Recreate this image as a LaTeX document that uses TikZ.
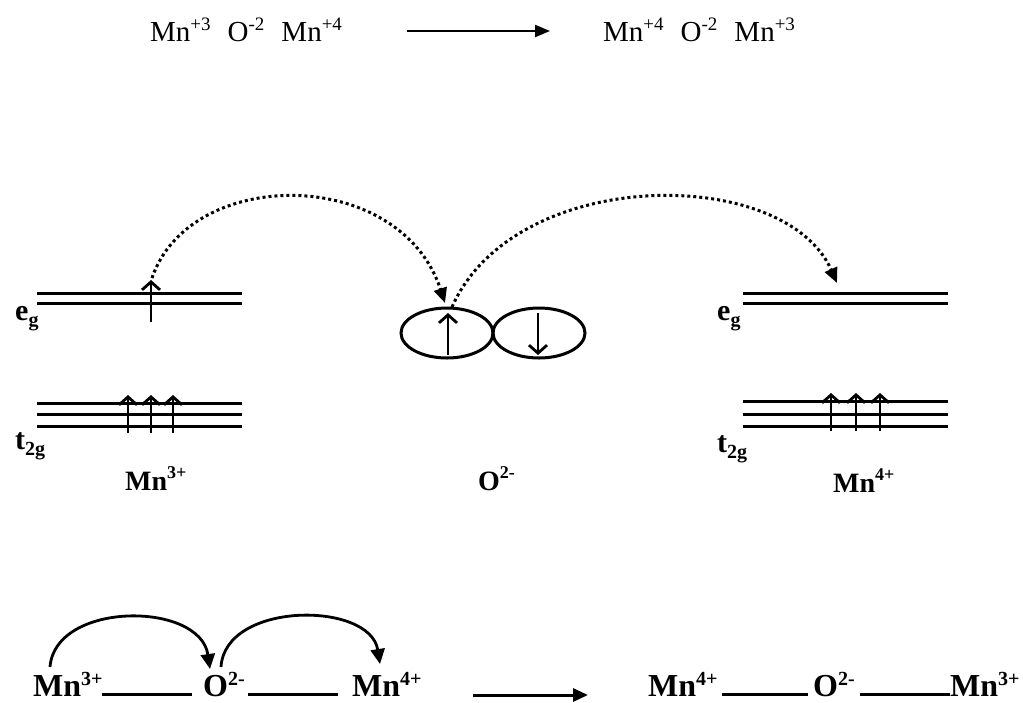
\documentclass[tikz,border=0pt]{standalone}
\usepackage{fontspec}
\setmainfont{Liberation Serif}
\usetikzlibrary{arrows.meta,shapes.geometric}
\newcommand{\mysup}[3]{\raisebox{#2pt}{\fontsize{#1pt}{#1pt}\selectfont #3}}
\newcommand{\mysub}[3]{\raisebox{-#2pt}{\fontsize{#1pt}{#1pt}\selectfont #3}}
\begin{document}
\begin{tikzpicture}[x=1pt,y=-1pt,
  toptext/.style={anchor=base west, inner sep=0pt, font=\fontsize{29}{29}\selectfont},
  lbl/.style={anchor=base west, inner sep=0pt, font=\fontsize{28}{28}\selectfont\bfseries},
  orb/.style={anchor=base west, inner sep=0pt, font=\fontsize{30}{30}\selectfont\bfseries},
  botlbl/.style={anchor=base west, inner sep=0pt, font=\fontsize{32}{32}\selectfont\bfseries},
  level/.style={line width=3pt},
  spin/.style={line width=2.8pt, -{Straight Barb[length=8pt,width=18pt,line width=2.8pt]}},
  hop/.style={line width=3pt, dash pattern=on 3pt off 3pt, -{Triangle[length=15pt,width=13pt]}},
  bond/.style={line width=3pt},
  reac/.style={line width=2.2pt, -{Triangle[length=15pt,width=12pt]}},
  bigreac/.style={line width=3pt, -{Triangle[length=15pt,width=13pt]}},
  curv/.style={line width=2.8pt, -{Triangle[length=15pt,width=14pt]}},
  lobe/.style={ellipse, draw, line width=3pt, minimum width=92pt, minimum height=50pt, inner sep=0pt}
]
\useasboundingbox (0,0) rectangle (1023,702);

% ---------- top reaction ----------
\node[toptext] (tl) at (150,41) {Mn\mysup{19}{11}{+3}\hspace{17pt}O\mysup{19}{11}{-2}\hspace{17pt}Mn\mysup{19}{11}{+4}};
\node[toptext] (tr) at (603,41) {Mn\mysup{19}{11}{+4}\hspace{17pt}O\mysup{19}{11}{-2}\hspace{17pt}Mn\mysup{19}{11}{+3}};
\coordinate (ta) at (407,31);
\coordinate (tb) at (550,31);
\draw[reac] (ta) -- (tb);

% ---------- Mn3+ levels ----------
\foreach \y in {293,303} \draw[level] (37,\y) -- (242,\y);
\foreach \y in {403,414,426} \draw[level] (37,\y) -- (242,\y);
\coordinate (e1b) at (151,322);
\coordinate (e1t) at (151,280);
\draw[spin] (e1b) -- (e1t);
\foreach \x in {128,151,173} \draw[spin] (\x,433) -- (\x,395);
\node[orb] (eg1) at (15,320) {e\mysub{20}{6}{g}};
\node[orb] (tg1) at (15,449) {t\mysub{20}{6}{2g}};
\node[lbl] (mn3) at (125,490) {Mn\mysup{18}{12}{3+}};

% ---------- O2- lobes ----------
\node[lobe] (oL) at (447,333) {};
\node[lobe] (oR) at (539,333) {};
\coordinate (ou1) at (448,355);
\coordinate (ou2) at (448,313);
\draw[spin] (ou1) -- (ou2);
\coordinate (od1) at (538,313);
\coordinate (od2) at (538,355);
\draw[spin] (od1) -- (od2);
\node[lbl] (o2) at (478,490) {O\mysup{18}{12}{2-}};

% ---------- Mn4+ levels ----------
\foreach \y in {293,303} \draw[level] (743,\y) -- (948,\y);
\foreach \y in {401,414,426} \draw[level] (743,\y) -- (948,\y);
\foreach \x in {831,856,880} \draw[spin] (\x,431) -- (\x,393);
\node[orb] (eg2) at (717,320) {e\mysub{20}{6}{g}};
\node[orb] (tg2) at (717,452) {t\mysub{20}{6}{2g}};
\node[lbl] (mn4) at (833,492) {Mn\mysup{18}{12}{4+}};

% ---------- electron hops ----------
\coordinate (h1s) at (152,278);
\coordinate (h1e) at (445,303);
\draw[hop] (h1s) .. controls (190,166) and (400,166) .. (h1e);
\coordinate (h2s) at (452,307);
\coordinate (h2e) at (837,283);
\draw[hop] (h2s) .. controls (515,165) and (785,165) .. (h2e);

% ---------- bottom row ----------
\node[botlbl] (b1) at (33,696) {Mn\mysup{20}{11}{3+}};
\node[botlbl] (b2) at (203,696) {O\mysup{20}{11}{2-}};
\node[botlbl] (b3) at (352,696) {Mn\mysup{20}{11}{4+}};
\node[botlbl] (b4) at (648,696) {Mn\mysup{20}{11}{4+}};
\node[botlbl] (b5) at (813,696) {O\mysup{20}{11}{2-}};
\node[botlbl] (b6) at (950,696) {Mn\mysup{20}{11}{3+}};
\draw[bond] (102,694) -- (192,694);
\draw[bond] (248,694) -- (338,694);
\draw[bond] (722,694) -- (808,694);
\draw[bond] (860,694) -- (950,694);
\coordinate (ba) at (473,695);
\coordinate (bb) at (588,695);
\draw[bigreac] (ba) -- (bb);
\coordinate (c1s) at (50,667);
\coordinate (c1e) at (210,669);
\draw[curv] (c1s) .. controls (55,601) and (200,601) .. (c1e);
\coordinate (c2s) at (221,667);
\coordinate (c2e) at (380,664);
\draw[curv] (c2s) .. controls (225,601) and (370,601) .. (c2e);
\end{tikzpicture}
\end{document}
